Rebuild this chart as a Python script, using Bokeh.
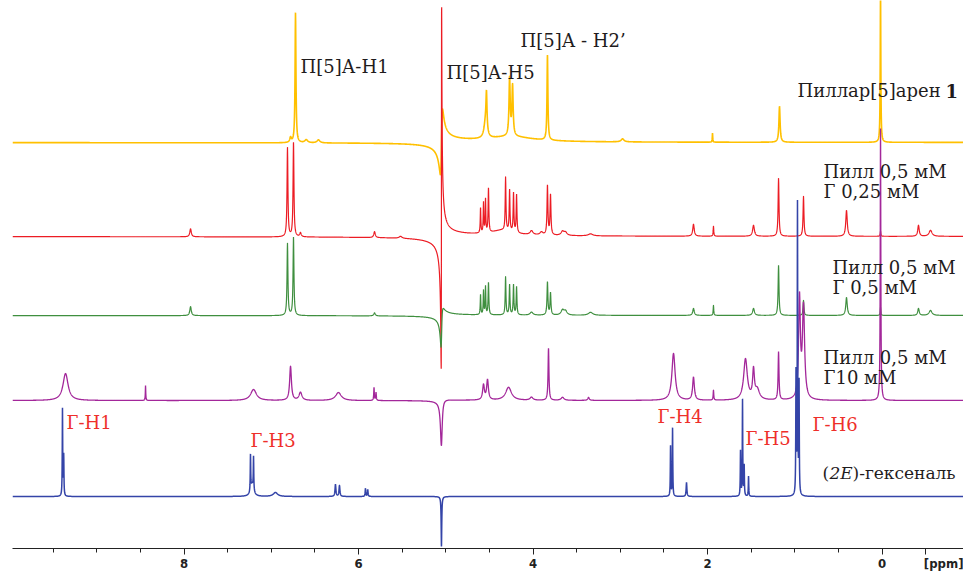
import numpy as np
from bokeh.plotting import figure
from bokeh.models import Range1d, FixedTicker, Label
from bokeh.embed import file_html
from bokeh.resources import INLINE

# ---------------- data ----------------
ppm_ticks = [8, 6, 4, 2, 0, -0.5]
ppm_tick_labels = {8: "8", 6: "6", 4: "4", 2: "2", 0: "0",
                   -0.5: "\u00a0" * 13 + "[ppm]"}
ppm_minor = [9.5, 9, 8.5, 7.5, 7, 6.5, 5.5, 5, 4.5, 3.5, 3, 2.5, 1.5, 1, 0.5]

series_names = ["Пиллар[5]арен 1", "Пилл 0,5 мМ / Г 0,25 мМ", "Пилл 0,5 мМ / Г 0,5 мМ",
                "Пилл 0,5 мМ / Г10 мМ", "(2E)-гексеналь"]
baselines = [142, 236, 315, 400, 496]          # vertical offset of each trace

# residual solvent signal (phase distorted), one entry per trace
solv_ppm = 5.05
solv_abs = [0, 102, -25, -45, -50]
solv_disp = [66, 356, 30, 8, 0]
solv_w = [0.012, 0.0025, 0.01, 0.012, 0.004]

# yellow: pillar[5]arene 1
yel_ppm = [6.723, 6.78, 6.60, 6.46, 4.545, 4.534, 4.269, 4.235, 3.835, 4.25, 2.974, 1.943, 1.175, 0.017]
yel_h = [130, 5, 3, 3, 16, 36, 58, 50, 85, 5, 3, 9, 36, 150]
yel_w = [0.006, 0.01, 0.02, 0.02, 0.02, 0.007, 0.008, 0.008, 0.006, 0.3, 0.02, 0.003, 0.008, 0.004]

# red: Pill 0.5 mM / G 0.25 mM
red_ppm = [7.926, 6.815, 6.746, 6.666, 5.817, 5.519,
           4.602, 4.568, 4.545, 4.511, 4.315, 4.269, 4.224, 4.189, 4.35, 4.018, 3.904, 3.835, 3.80, 3.662, 3.628,
           3.341, 2.161, 1.932, 1.473, 1.186, 0.90, 0.407, 0.017, -0.418, -0.556]
red_h = [8, 89, 94, 4, 6, 2,
         25, 30, 33, 44, 53, 41, 39, 38, 5, 4, 3, 49, 40, 4, 3,
         2, 12, 10, 11, 58, 40, 26, 5, 11, 6]
red_w = [0.01, 0.006, 0.006, 0.01, 0.01, 0.02,
         0.004, 0.004, 0.004, 0.005, 0.005, 0.005, 0.005, 0.005, 0.15, 0.02, 0.02, 0.006, 0.006, 0.02, 0.02,
         0.03, 0.01, 0.004, 0.012, 0.006, 0.006, 0.01, 0.004, 0.01, 0.02]

# green: Pill 0.5 mM / G 0.5 mM
grn_ppm = [7.926, 6.815, 6.746, 5.817,
           4.602, 4.568, 4.545, 4.511, 4.315, 4.269, 4.224, 4.189, 4.018, 3.835, 3.80, 3.662, 3.628,
           3.341, 2.161, 1.932, 1.473, 1.186, 0.90, 0.407, 0.017, -0.418, -0.556]
grn_h = [9, 72, 78, 3,
         20, 24, 28, 32, 38, 30, 30, 28, 3, 33, 22, 5, 4,
         3, 7, 10, 7, 50, 15, 18, 8, 7, 5]
grn_w = [0.01, 0.006, 0.006, 0.01,
         0.004, 0.004, 0.004, 0.005, 0.005, 0.005, 0.005, 0.005, 0.02, 0.006, 0.006, 0.02, 0.02,
         0.03, 0.01, 0.004, 0.012, 0.006, 0.006, 0.01, 0.004, 0.01, 0.02]

# magenta: Pill 0.5 mM / G 10 mM
mag_ppm = [9.359, 8.442, 7.204, 6.780, 6.666, 6.231, 5.823, 5.80,
           4.568, 4.522, 4.281, 4.018, 3.823, 3.662, 3.364,
           2.390, 2.161, 1.932, 1.565, 1.473, 1.43, 1.186, 0.946, 0.90, 0.017]
mag_h = [27, 15, 11, 34, 8, 8, 13, 8,
         15, 20, 13, 3, 52, 3, 3,
         47, 23, 10, 41, 28, 10, 48, 100, 92, 272]
mag_w = [0.035, 0.003, 0.04, 0.012, 0.02, 0.04, 0.004, 0.004,
         0.012, 0.012, 0.04, 0.02, 0.006, 0.02, 0.01,
         0.022, 0.012, 0.004, 0.025, 0.012, 0.03, 0.006, 0.012, 0.015, 0.004]

# blue: (2E)-hexenal
blu_ppm = [9.394, 9.38, 7.239, 7.204, 7.22, 6.953, 6.265, 6.219, 5.921, 5.895,
           2.424, 2.401, 2.241, 1.622, 1.599, 1.58, 1.530, 0.986, 0.969, 0.951]
blu_h = [87, 40, 36, 33, 12, 4, 12, 11, 8, 7,
         50, 68, 14, 45, 96, 30, 20, 120, 290, 110]
blu_w = [0.003, 0.003, 0.003, 0.003, 0.02, 0.03, 0.006, 0.006, 0.004, 0.004,
         0.003, 0.003, 0.005, 0.003, 0.003, 0.003, 0.003, 0.003, 0.003, 0.003]

colors = ["#FFC000", "#EC1C24", "#3F8F3F", "#A3279A", "#3444A8"]
widths = [1.6, 1.2, 1.2, 1.3, 1.5]

peak_sets = [(yel_ppm, yel_h, yel_w), (red_ppm, red_h, red_w), (grn_ppm, grn_h, grn_w),
             (mag_ppm, mag_h, mag_w), (blu_ppm, blu_h, blu_w)]

X0, X1 = 9.967, -0.934


def trace(i):
    pp, hh, ww = peak_sets[i]
    grid = [np.linspace(X0, X1, 5600)]
    k = np.array([-8, -4, -2, -1, -0.5, 0, 0.5, 1, 2, 4, 8])
    for c, w in zip(pp, ww):
        grid.append(c + w * k)
    grid.append(solv_ppm + solv_w[i] * k)
    x = np.unique(np.concatenate(grid))[::-1]
    inten = np.zeros_like(x)
    for c, h, w in zip(pp, hh, ww):
        inten += h * w * w / ((x - c) ** 2 + w * w)
    d = x - solv_ppm
    w = solv_w[i]
    inten += solv_abs[i] * w * w / (d * d + w * w)
    inten += solv_disp[i] * (-d) * w / (d * d + w * w)
    return x, baselines[i] - inten


p = figure(frame_width=951, frame_height=548,
           x_range=Range1d(X0, X1), y_range=Range1d(548, 0),
           output_backend="svg", toolbar_location=None, y_axis_location=None,
           min_border_left=12, min_border_right=0, min_border_top=0, min_border_bottom=0)
p.outline_line_color = None
p.grid.visible = False
p.background_fill_color = "white"
p.border_fill_color = "white"

for i in range(5):
    x, y = trace(i)
    p.line(x, y, line_color=colors[i], line_width=widths[i])

ax = p.xaxis[0]
ax.ticker = FixedTicker(ticks=ppm_ticks, minor_ticks=ppm_minor)
ax.major_label_overrides = ppm_tick_labels
ax.axis_line_color = "#222222"
ax.axis_line_width = 1.2
ax.major_tick_line_color = "#222222"
ax.minor_tick_line_color = "#222222"
ax.major_tick_in = 0
ax.major_tick_out = 6
ax.minor_tick_in = 0
ax.minor_tick_out = 4
ax.major_label_standoff = 1
ax.major_label_text_font = "'DejaVu Sans Condensed', 'Liberation Sans'"
ax.major_label_text_font_style = "bold"
ax.major_label_text_font_size = "13px"
ax.major_label_text_color = "#222222"


def sx(px):
    return (881.5 - px) / 87.24


DARK = "#1f1c1d"
RED = "#EE2F2A"
SERIF = "DejaVu Serif"

labels = [
    ("П[5]А-Н1", 300, 66, 18, DARK, "normal"),
    ("П[5]А-Н5", 446, 72, 18, DARK, "normal"),
    ("П[5]А - Н2’", 520, 40, 18, DARK, "normal"),
    ("Пиллар[5]арен", 797, 90, 18, DARK, "normal"),
    ("1", 945, 90, 18, DARK, "bold"),
    ("Пилл 0,5 мМ", 823, 171, 18, DARK, "normal"),
    ("Г 0,25 мМ", 823, 191, 18, DARK, "normal"),
    ("Пилл 0,5 мМ", 832, 267, 18, DARK, "normal"),
    ("Г 0,5 мМ", 832, 287, 18, DARK, "normal"),
    ("Пилл 0,5 мМ", 823, 357, 18, DARK, "normal"),
    ("Г10 мМ", 823, 377, 18, DARK, "normal"),
    ("(", 822, 472, 17, DARK, "normal"),
    ("2E", 829, 472, 17, DARK, "italic"),
    (")-гексеналь", 852, 472, 17, DARK, "normal"),
    ("Г-Н1", 66, 422, 18, RED, "normal"),
    ("Г-Н3", 250, 440, 18, RED, "normal"),
    ("Г-Н4", 657, 416, 18, RED, "normal"),
    ("Г-Н5", 745, 438, 18, RED, "normal"),
    ("Г-Н6", 812, 424, 18, RED, "normal"),
]
for t, xpx, ypx, fs, col, st in labels:
    p.add_layout(Label(x=sx(xpx), y=ypx, text=t, text_font=SERIF, text_font_size=f"{fs}px",
                       text_color=col, text_font_style=st, text_baseline="middle", text_align="left"))

open("out.html", "w").write(file_html(p, INLINE))
